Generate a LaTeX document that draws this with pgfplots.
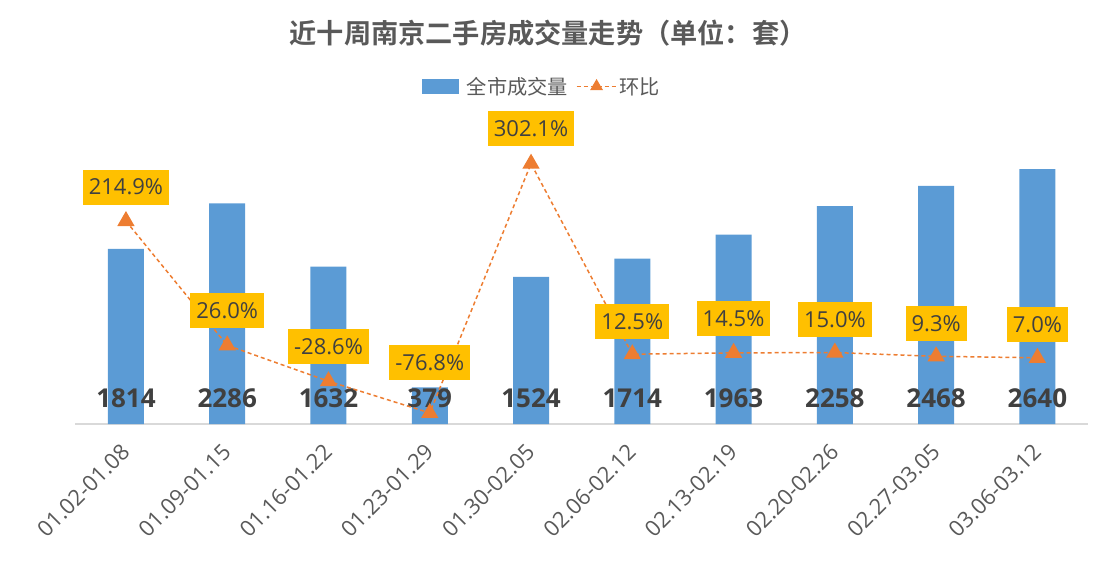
\documentclass[border=0pt]{standalone}
\usepackage{fontspec}
\setmainfont{Open Sans}
\newfontfamily\cjk{Noto Sans CJK SC}[BoldFont={Noto Sans CJK SC Bold}]
\usepackage{pgfplots}
\usepackage{pgfplotstable}
\pgfplotsset{compat=1.18}

\definecolor{barblue}{HTML}{5B9BD5}
\definecolor{lineorange}{HTML}{ED7D31}
\definecolor{boxyellow}{HTML}{FFC000}
\definecolor{darktext}{HTML}{404040}
\definecolor{labgray}{HTML}{595959}
\definecolor{axisgray}{HTML}{D9D9D9}

\pgfplotsset{
  barlegend/.style={legend image code/.code={\fill[barblue] (0pt,-7pt) rectangle (36pt,7pt); \path[draw=none, fill=none] (36pt,0pt) -- (43pt,0pt);}},
  linelegend/.style={legend image code/.code={%
    \draw[lineorange, line width=1.5pt, dash pattern=on 4pt off 3pt] (0pt,0pt) -- (40pt,0pt);
    \path[draw=lineorange, fill=lineorange] plot[mark=triangle*, mark size=6pt] coordinates {(20pt,0pt)};}},
}

\pgfplotstableread{
x v
0 1814
1 2286
2 1632
3 379
4 1524
5 1714
6 1963
7 2258
8 2468
9 2640
}\bars

\pgfplotstableread{
x p lab dy
0 214.9 214.9\% 34
1 26.0 26.0\% 35
2 -28.6 -28.6\% 35
3 -76.8 -76.8\% 50
4 302.1 302.1\% 35
5 12.5 12.5\% 33
6 14.5 14.5\% 34
7 15.0 15.0\% 33
8 9.3 9.3\% 33
9 7.0 7.0\% 33
}\ratio

\begin{document}
\begin{tikzpicture}
\useasboundingbox (0,0) rectangle (1111pt,571pt);
\node[font=\cjk\bfseries\fontsize{27.2}{32}\selectfont, text=labgray] at (548pt,538pt) {近十周南京二手房成交量走势（单位：套）};

\begin{axis}[
  at={(75.3pt,147pt)}, anchor=south west,
  scale only axis, width=1012.7pt, height=289.5pt,
  xmin=-0.5, xmax=9.5, ymin=0, ymax=3000,
  axis x line=bottom, hide y axis,
  x axis line style={-, draw=axisgray, line width=1.8pt},
  xtick={0,...,9},
  xticklabels={01.02-01.08,01.09-01.15,01.16-01.22,01.23-01.29,01.30-02.05,02.06-02.12,02.13-02.19,02.20-02.26,02.27-03.05,03.06-03.12},
  major tick length=0pt,
  xticklabel style={yshift=-22pt, xshift=2pt, rotate=45, anchor=east, font=\fontsize{22}{26}\selectfont, text=labgray},
  clip=false,
]
\addplot[ybar, bar width=36pt, fill=barblue, draw=none] table[x=x,y=v]{\bars};
\addplot[draw=none, mark=none, nodes near coords, point meta=explicit symbolic,
  every node near coord/.append style={anchor=center, yshift=26pt, font=\bfseries\fontsize{26}{30}\selectfont, text=darktext}]
  table[x=x, y expr=0, meta=v]{\bars};
\end{axis}

\begin{axis}[
  at={(75.3pt,147pt)}, anchor=south west,
  scale only axis, width=1012.7pt, height=289.5pt,
  xmin=-0.5, xmax=9.5, ymin=-93.6, ymax=346.4,
  hide axis, clip=false,
  legend style={at={(0.4605,1.166)}, anchor=center, draw=none, fill=none,
    font=\cjk\fontsize{20.2}{24}\selectfont, text=labgray,
    /tikz/every even column/.append style={column sep=6pt}},
  legend columns=2,
]
\addlegendimage{barlegend}
\addlegendentry{全市成交量}
\addplot[color=lineorange, line width=1.5pt, dash pattern=on 4pt off 3pt,
  mark=triangle*, mark size=8.5pt, mark options={solid, fill=lineorange},
  linelegend,
  visualization depends on={\thisrow{dy} \as \dy},
  nodes near coords, point meta=explicit symbolic,
  every node near coord/.append style={anchor=center, yshift=\dy pt, fill=boxyellow, text=darktext,
    font=\fontsize{22}{26}\selectfont, inner xsep=6pt, inner ysep=0pt, minimum height=35pt}]
  table[x=x, y=p, meta=lab]{\ratio};
\addlegendentry{环比}
\end{axis}
\end{tikzpicture}
\end{document}
